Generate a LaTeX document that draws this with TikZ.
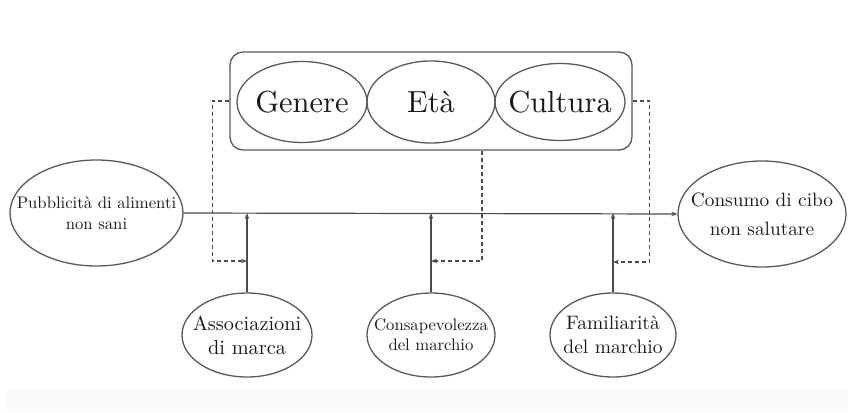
\documentclass[tikz,border=0pt]{standalone}
\usepackage{fontspec}
\setmainfont{lmroman10-regular}[Extension=.otf]
\usetikzlibrary{shapes.geometric,arrows.meta}
\begin{document}
\begin{tikzpicture}[x=1pt,y=-1pt,
  oval/.style={ellipse,draw=black!65,line width=1.3pt,inner sep=0pt},
  lbl/.style={inner sep=0pt,align=center,text=black!90},
  big/.style={font=\fontsize{30.5}{34}\selectfont},
  conn/.style={draw=black!70,line width=1.2pt},
  tip/.style={-{Stealth[length=6pt,width=4.5pt]}},
  dashconn/.style={draw=black!70,line width=1.1pt,dash pattern=on 4pt off 3pt},
]
\useasboundingbox (0,0) rectangle (848,412);
\fill[black!2] (7,390) rectangle (848,412);

% moderating factors
\node[draw=black!65,line width=1.3pt,rounded corners=13pt,minimum width=402pt,minimum height=98pt,inner sep=0pt] (grp) at (431,101) {};
\node[oval,minimum width=130pt,minimum height=81pt] (gen) at (302,102) {};
\node[oval,minimum width=128pt,minimum height=82pt] (eta) at (431,102) {};
\node[oval,minimum width=130pt,minimum height=77pt] (cul) at (560,102) {};
\node[lbl,big] (gent) at (gen) {Genere};
\node[lbl,big] (etat) at (eta) {Età};
\node[lbl,big] (cult) at (cul) {Cultura};

% main chain
\node[oval,minimum width=173pt,minimum height=106pt] (src) at (96.5,213) {};
\node[oval,minimum width=168pt,minimum height=106pt] (dst) at (762,214) {};
\node[lbl,font=\fontsize{16.7}{21}\selectfont] (srct) at (src) {Pubblicità di alimenti\\non sani};
\node[lbl,font=\fontsize{19.3}{29}\selectfont] (dstt) at (dst) {Consumo di cibo\\non salutare};

% mediators
\node[oval,minimum width=130pt,minimum height=84pt] (ass) at (247,335) {};
\node[oval,minimum width=128pt,minimum height=84pt] (con) at (431,335) {};
\node[oval,minimum width=126pt,minimum height=84pt] (fam) at (613,335) {};
\node[lbl,font=\fontsize{20.3}{24}\selectfont] (asst) at (ass) {Associazioni\\di marca};
\node[lbl,font=\fontsize{16.7}{20}\selectfont] (cont) at (con) {Consapevolezza\\del marchio};
\node[lbl,font=\fontsize{19.5}{24}\selectfont] (famt) at (fam) {Familiarità\\del marchio};

\draw[conn,tip] (src.east) -- (dst.west);
\draw[conn,tip] (ass.north) -- (ass.north |- src.east);
\draw[conn,tip] (con.north) -- (con.north |- src.east);
\draw[conn,tip] (fam.north) -- (fam.north |- src.east);

% moderation paths
\coordinate (j1) at (247,261);
\coordinate (j2) at (431,261);
\coordinate (j3) at (613,262);
\path (grp.south) ++(51,0) coordinate (g2);
\draw[dashconn,tip] (grp.west) -- ++(-17,0) |- (j1);
\draw[dashconn,tip] (g2) |- (j2);
\draw[dashconn,tip] (grp.east) -- ++(17,0) |- (j3);
\end{tikzpicture}
\end{document}
